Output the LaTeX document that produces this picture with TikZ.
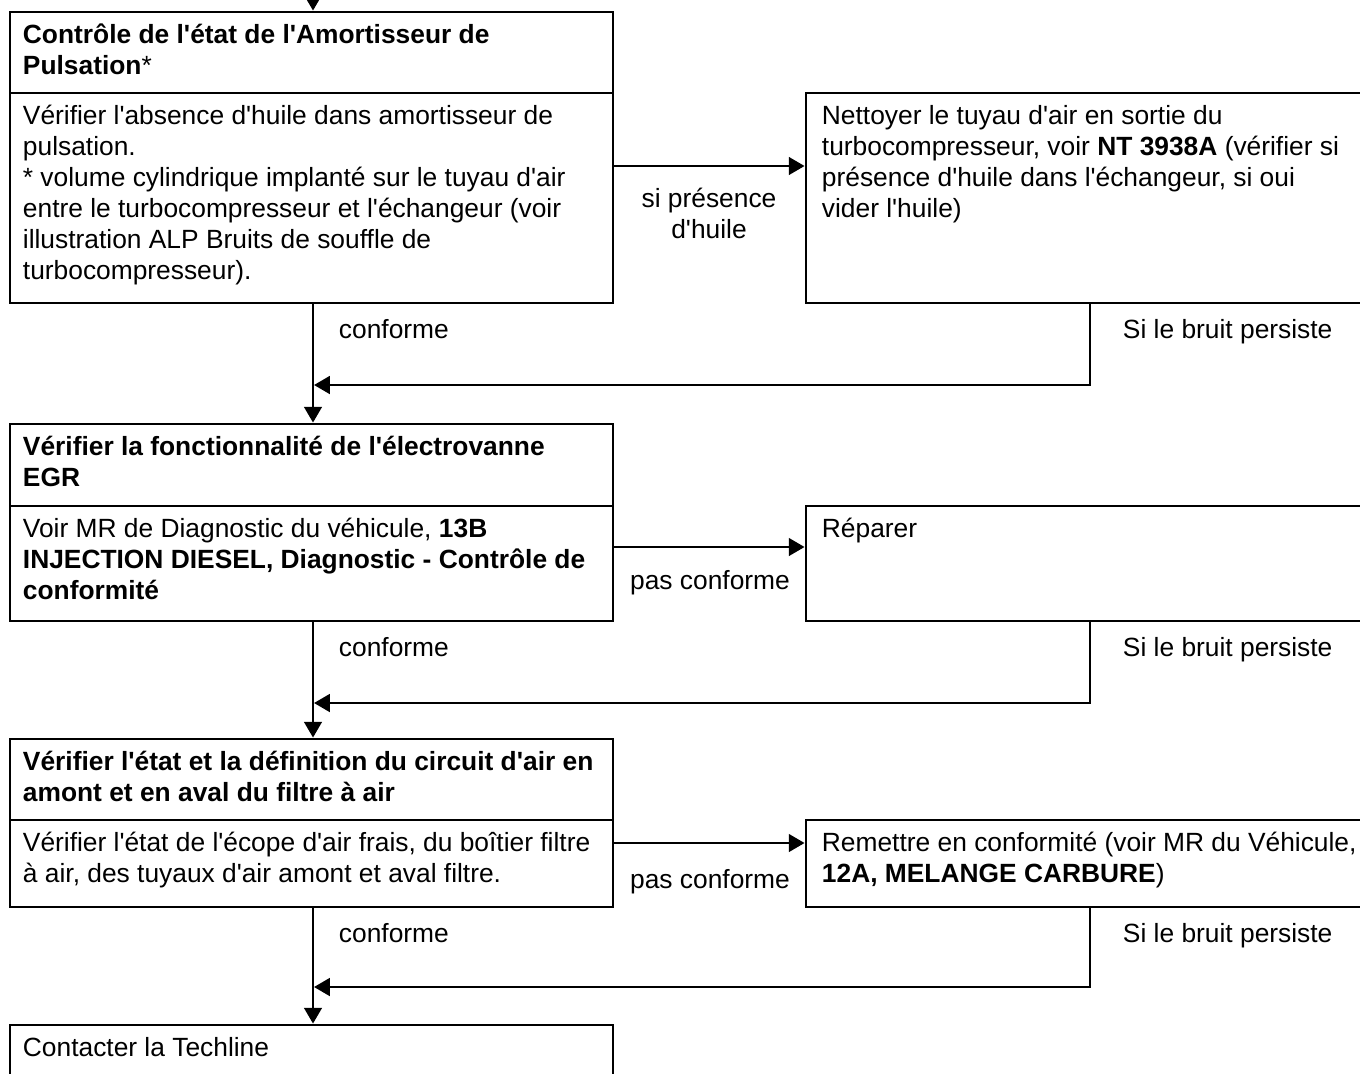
\documentclass[tikz,border=0pt]{standalone}
\usepackage{fontspec}
\newfontfamily\arialfont{Liberation Sans}
\usetikzlibrary{arrows.meta,calc,fit}

\begin{document}
\begin{tikzpicture}[x=0.02cm,y=-0.02cm,>={Triangle[length=9pt,width=10pt]},
  frame/.style={draw,line width=1.6pt,inner sep=0pt},
  txt/.style={anchor=north west,inner sep=0pt,align=left,font=\arialfont\fontsize{15}{17.64}\selectfont},
  lbl/.style={inner sep=0pt,align=center,font=\arialfont\fontsize{15}{17.64}\selectfont},
  flow/.style={->,line width=1.6pt}]
\useasboundingbox (0,0) rectangle (1360,1073);
% left column
\node[frame,fit={(10,12) (613,93)}] (l1t) {};
\node[frame,fit={(10,93) (613,303)}] (l1b) {};
\node[frame,fit={(10,424) (613,506)}] (l2t) {};
\node[frame,fit={(10,506) (613,621)}] (l2b) {};
\node[frame,fit={(10,739) (613,820)}] (l3t) {};
\node[frame,fit={(10,820) (613,907)}] (l3b) {};
\node[frame,fit={(10,1025) (613,1110)}] (l4) {};
% right column
\node[frame,fit={(806,93) (1374,303)}] (r1) {};
\node[frame,fit={(806,506) (1374,621)}] (r2) {};
\node[frame,fit={(806,820) (1374,907)}] (r3) {};
% texts
\node[txt] (l1tx) at ($(l1t.north west)+(14,11)$) {\strut\textbf{Contrôle de l'état de l'Amortisseur de}\\\textbf{Pulsation}*};
\node[txt] (l1bx) at ($(l1b.north west)+(14,11)$) {\strut Vérifier l'absence d'huile dans amortisseur de\\pulsation.\\* volume cylindrique implanté sur le tuyau d'air\\entre le turbocompresseur et l'échangeur (voir\\illustration ALP Bruits de souffle de\\turbocompresseur).};
\node[txt] (r1x) at ($(r1.north west)+(17,11)$) {\strut Nettoyer le tuyau d'air en sortie du\\turbocompresseur, voir \textbf{NT 3938A} (vérifier si\\présence d'huile dans l'échangeur, si oui\\vider l'huile)};
\node[txt] (l2tx) at ($(l2t.north west)+(14,11)$) {\strut\textbf{Vérifier la fonctionnalité de l'électrovanne}\\\textbf{EGR}};
\node[txt] (l2bx) at ($(l2b.north west)+(14,11)$) {\strut Voir MR de Diagnostic du véhicule, \textbf{13B}\\\textbf{INJECTION DIESEL, Diagnostic - Contrôle de}\\\textbf{conformité}};
\node[txt] (r2x) at ($(r2.north west)+(17,11)$) {\strut Réparer};
\node[txt] (l3tx) at ($(l3t.north west)+(14,11)$) {\strut\textbf{Vérifier l'état et la définition du circuit d'air en}\\\textbf{amont et en aval du filtre à air}};
\node[txt] (l3bx) at ($(l3b.north west)+(14,11)$) {\strut Vérifier l'état de l'écope d'air frais, du boîtier filtre\\à air, des tuyaux d'air amont et aval filtre.};
\node[txt] (r3x) at ($(r3.north west)+(17,11)$) {\strut Remettre en conformité (voir MR du Véhicule,\\\textbf{12A, MELANGE CARBURE})};
\node[txt] (l4x) at ($(l4.north west)+(14,11)$) {\strut Contacter la Techline};
% arrows
\coordinate (in) at (313,-20);
\coordinate (h1) at (0,166);
\coordinate (h2) at (0,547);
\coordinate (h3) at (0,843);
\coordinate (j1) at (314,385);
\coordinate (j2) at (314,703);
\coordinate (j3) at (314,987);
\draw[flow] (in) -- (in |- l1t.north);
\draw[flow] (l1b.east |- h1) -- (r1.west |- h1);
\draw[flow] (in |- l1b.south) -- (in |- l2t.north);
\draw[flow] (r1.south) |- (j1);
\draw[flow] (l2b.east |- h2) -- (r2.west |- h2);
\draw[flow] (in |- l2b.south) -- (in |- l3t.north);
\draw[flow] (r2.south) |- (j2);
\draw[flow] (l3b.east |- h3) -- (r3.west |- h3);
\draw[flow] (in |- l3b.south) -- (in |- l4.north);
\draw[flow] (r3.south) |- (j3);
% labels
\node[lbl,anchor=north] (sp) at (709,185) {\strut si présence\\d'huile};
\node[lbl,anchor=north] (pc2) at (710,567) {\strut pas conforme};
\node[lbl,anchor=north] (pc3) at (710,866) {\strut pas conforme};
\node[lbl,anchor=north west] (c1) at ($(l1b.south west)+(330,12)$) {\strut conforme};
\node[lbl,anchor=north west] (c2) at ($(l2b.south west)+(330,12)$) {\strut conforme};
\node[lbl,anchor=north west] (c3) at ($(l3b.south west)+(330,12)$) {\strut conforme};
\node[lbl,anchor=north west] (s1) at ($(r1.south west)+(318,12)$) {\strut Si le bruit persiste};
\node[lbl,anchor=north west] (s2) at ($(r2.south west)+(318,12)$) {\strut Si le bruit persiste};
\node[lbl,anchor=north west] (s3) at ($(r3.south west)+(318,12)$) {\strut Si le bruit persiste};
\end{tikzpicture}
\end{document}
